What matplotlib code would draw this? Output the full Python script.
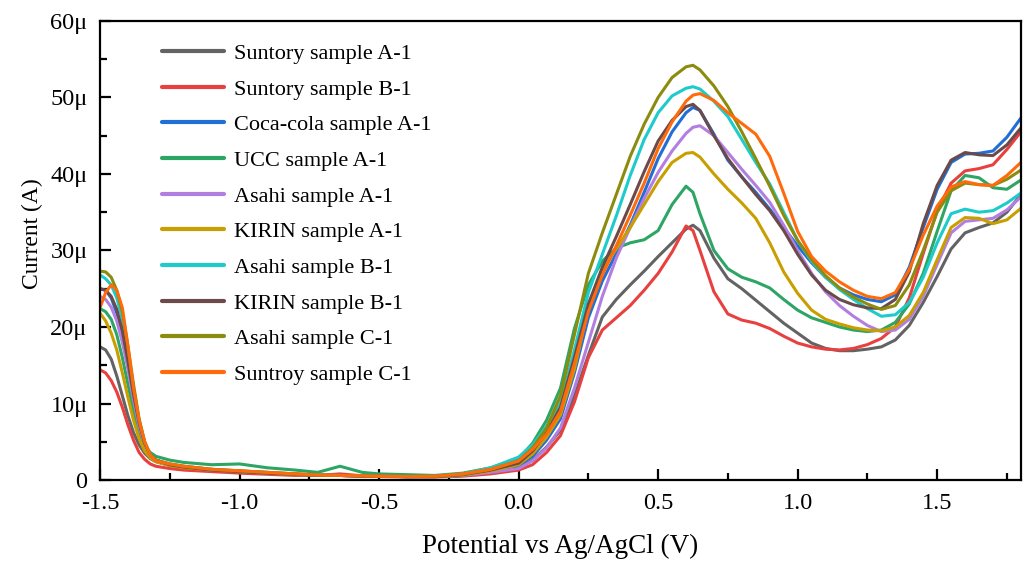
import matplotlib
matplotlib.use("Agg")
import matplotlib.pyplot as plt
from matplotlib.ticker import MultipleLocator, FuncFormatter

plt.rcParams['font.family'] = ['Liberation Serif', 'DejaVu Serif']

# potential (V) grid used for all curves
potential = [-1.5, -1.48, -1.46, -1.44, -1.42, -1.40, -1.38, -1.36, -1.34, -1.32, -1.30,
             -1.25, -1.2, -1.1, -1.0, -0.9, -0.8, -0.72, -0.64, -0.56, -0.5, -0.4, -0.3, -0.2, -0.1,
             0.0, 0.05, 0.1, 0.15, 0.2, 0.25, 0.3, 0.35, 0.4, 0.45, 0.5, 0.55, 0.6, 0.625, 0.65,
             0.7, 0.75, 0.8, 0.85, 0.9, 0.95, 1.0, 1.05, 1.1, 1.15, 1.2, 1.25, 1.3, 1.35, 1.4,
             1.45, 1.5, 1.55, 1.6, 1.65, 1.7, 1.75, 1.8]

# current in uA
suntory_a1 = [17.4, 17.0, 15.8, 13.6, 11.0, 8.4, 6.2, 4.6, 3.5, 2.8, 2.4,
              1.9, 1.6, 1.3, 1.1, 0.9, 0.75, 0.65, 0.6, 0.55, 0.5, 0.45, 0.45, 0.6, 1.0,
              1.6, 2.6, 4.3, 6.5, 11.0, 16.3, 21.3, 23.6, 25.5, 27.3, 29.2, 31.0, 32.8, 33.3, 32.6,
              29.0, 26.3, 25.0, 23.5, 22.0, 20.5, 19.2, 17.9, 17.2, 16.9, 16.9, 17.1, 17.4, 18.3, 20.2,
              23.2, 26.6, 30.2, 32.3, 33.0, 33.6, 35.0, 37.3]
suntory_b1 = [14.4, 14.0, 13.0, 11.5, 9.5, 7.2, 5.2, 3.6, 2.7, 2.1, 1.8,
              1.5, 1.3, 1.1, 0.9, 0.75, 0.6, 0.6, 0.8, 0.55, 0.45, 0.4, 0.4, 0.5, 0.8,
              1.3, 2.0, 3.6, 5.8, 10.2, 16.0, 19.6, 21.2, 22.8, 24.8, 27.0, 29.8, 33.2, 32.6, 30.0,
              24.6, 21.7, 20.9, 20.5, 19.8, 18.8, 17.9, 17.4, 17.1, 17.0, 17.2, 17.7, 18.5, 20.0, 23.8,
              29.6, 35.2, 38.8, 40.4, 40.7, 41.2, 43.2, 45.5]
cocacola_a1 = [25.0, 24.8, 23.8, 21.8, 18.8, 15.0, 11.0, 7.5, 4.8, 3.3, 2.6,
               2.0, 1.7, 1.3, 1.1, 0.9, 0.75, 0.6, 0.6, 0.5, 0.5, 0.45, 0.45, 0.6, 1.1,
               1.9, 3.1, 5.2, 8.0, 14.0, 21.2, 26.0, 29.6, 33.3, 37.6, 42.0, 45.5, 48.0, 48.7, 48.3,
               45.2, 41.8, 39.6, 37.6, 35.4, 33.0, 30.6, 28.4, 26.5, 25.1, 24.2, 23.6, 23.3, 24.2, 27.8,
               33.0, 38.0, 41.5, 42.6, 42.7, 43.0, 44.8, 47.3]
ucc_a1 = [22.4, 22.0, 21.0, 19.0, 16.0, 12.5, 9.0, 6.2, 4.5, 3.6, 3.1,
          2.6, 2.3, 2.0, 2.1, 1.6, 1.3, 1.0, 1.8, 1.0, 0.8, 0.7, 0.6, 0.9, 1.6,
          2.8, 4.8, 7.8, 12.0, 19.8, 25.5, 28.6, 30.3, 31.0, 31.4, 32.6, 36.0, 38.4, 37.6, 34.8,
          30.0, 27.6, 26.5, 25.9, 25.1, 23.6, 22.2, 21.2, 20.6, 20.0, 19.6, 19.4, 19.6, 20.6, 23.0,
          27.0, 32.5, 37.8, 39.8, 39.5, 38.2, 38.0, 39.2]
asahi_a1 = [24.0, 23.6, 22.6, 20.8, 18.0, 14.5, 10.5, 7.0, 4.6, 3.2, 2.5,
            2.0, 1.7, 1.3, 1.1, 0.9, 0.75, 0.6, 0.6, 0.5, 0.5, 0.45, 0.45, 0.6, 1.0,
            1.5, 2.5, 4.2, 6.8, 12.0, 18.0, 24.0, 29.0, 33.0, 36.8, 40.2, 43.0, 45.3, 46.1, 46.3,
            45.0, 42.8, 40.6, 38.5, 36.3, 33.3, 30.0, 27.0, 24.6, 22.8, 21.4, 20.2, 19.4, 19.6, 21.0,
            24.0, 28.2, 32.3, 33.8, 34.0, 34.2, 35.3, 37.0]
kirin_a1 = [21.8, 20.8, 19.2, 17.0, 14.0, 10.8, 7.8, 5.4, 3.8, 2.9, 2.4,
            1.9, 1.6, 1.3, 1.1, 0.9, 0.7, 0.6, 0.6, 0.5, 0.5, 0.45, 0.45, 0.65, 1.2,
            2.0, 3.4, 5.6, 8.5, 14.5, 22.5, 27.5, 30.2, 33.0, 36.0, 39.0, 41.5, 42.7, 42.8, 42.2,
            40.0, 38.0, 36.2, 34.2, 31.0, 27.2, 24.4, 22.2, 21.0, 20.4, 19.9, 19.6, 19.5, 20.0, 21.5,
            24.5, 28.8, 33.0, 34.3, 34.2, 33.5, 34.0, 35.5]
asahi_b1 = [26.8, 26.3, 25.5, 23.8, 21.0, 16.8, 12.0, 7.8, 4.9, 3.3, 2.6,
            2.1, 1.8, 1.4, 1.2, 1.0, 0.8, 0.65, 0.6, 0.55, 0.5, 0.45, 0.5, 0.8, 1.6,
            3.0, 4.6, 7.0, 10.0, 17.0, 24.5, 29.5, 34.5, 39.8, 44.5, 48.0, 50.2, 51.2, 51.4, 51.1,
            49.5, 47.5, 44.5, 41.5, 38.7, 35.0, 31.3, 28.6, 26.5, 24.9, 23.6, 22.4, 21.4, 21.6, 23.2,
            26.5, 31.0, 34.8, 35.4, 35.0, 35.2, 36.2, 37.5]
kirin_b1 = [25.0, 24.8, 24.0, 22.3, 19.5, 15.5, 11.2, 7.5, 4.8, 3.3, 2.6,
            2.0, 1.7, 1.3, 1.1, 0.9, 0.75, 0.6, 0.6, 0.5, 0.5, 0.45, 0.45, 0.7, 1.3,
            2.2, 3.8, 6.2, 9.5, 16.0, 23.0, 27.8, 31.8, 36.0, 40.3, 44.3, 47.0, 48.8, 49.1, 48.3,
            45.0, 42.0, 39.6, 37.3, 35.2, 32.6, 29.5, 26.8, 24.8, 23.6, 22.9, 22.5, 22.4, 23.6, 27.2,
            33.5, 38.5, 41.8, 42.8, 42.5, 42.4, 43.8, 46.0]
asahi_c1 = [27.3, 27.2, 26.5, 24.8, 22.0, 17.5, 12.5, 8.0, 5.0, 3.3, 2.6,
            2.1, 1.8, 1.4, 1.2, 1.0, 0.8, 0.65, 0.6, 0.55, 0.5, 0.45, 0.5, 0.75, 1.4,
            2.5, 4.2, 6.8, 11.0, 19.0, 27.0, 32.3, 37.3, 42.3, 46.5, 50.0, 52.6, 54.0, 54.2, 53.6,
            51.5, 48.8, 45.5, 42.0, 38.4, 34.6, 31.3, 28.8, 26.7, 25.1, 23.9, 23.0, 22.3, 22.8, 25.5,
            30.0, 35.0, 37.8, 38.8, 38.6, 38.5, 39.3, 40.5]
suntroy_c1 = [22.5, 24.5, 25.5, 24.8, 22.5, 17.5, 12.0, 7.8, 5.0, 3.3, 2.5,
              2.1, 1.8, 1.4, 1.2, 1.0, 0.8, 0.65, 0.6, 0.55, 0.5, 0.45, 0.5, 0.8, 1.4,
              2.5, 4.0, 6.0, 9.0, 15.2, 22.0, 26.8, 30.6, 34.6, 38.8, 43.3, 46.8, 49.5, 50.3, 50.5,
              49.6, 48.0, 46.6, 45.2, 42.3, 37.5, 32.5, 29.2, 27.3, 25.9, 24.8, 24.0, 23.7, 24.5, 27.5,
              32.0, 35.8, 38.3, 39.0, 38.6, 38.5, 39.8, 41.5]

labels = ['Suntory sample A-1', 'Suntory sample B-1', 'Coca-cola sample A-1', 'UCC sample A-1',
          'Asahi sample A-1', 'KIRIN sample A-1', 'Asahi sample B-1', 'KIRIN sample B-1',
          'Asahi sample C-1', 'Suntroy sample C-1']
series = [suntory_a1, suntory_b1, cocacola_a1, ucc_a1, asahi_a1,
          kirin_a1, asahi_b1, kirin_b1, asahi_c1, suntroy_c1]
colors = ['#636363', '#e8403f', '#1f6fd6', '#2da564', '#b27fe0',
          '#c99f00', '#1dcbcb', '#6c4a4a', '#8b8c0e', '#ff6a0a']

fig = plt.figure(figsize=(10.26, 5.65), dpi=100)
ax = fig.add_axes([0.0975, 0.1504, 0.8975, 0.8126])

for y, lab, c in zip(series, labels, colors):
    ax.plot(potential, y, color=c, lw=2.2, label=lab, solid_capstyle='round')

ax.set_xlim(-1.5, 1.8)
ax.set_ylim(0, 60)
ax.xaxis.set_major_locator(MultipleLocator(0.5))
ax.xaxis.set_minor_locator(MultipleLocator(0.25))
ax.yaxis.set_major_locator(MultipleLocator(10))
ax.yaxis.set_minor_locator(MultipleLocator(5))
ax.xaxis.set_major_formatter(FuncFormatter(lambda v, p: f"{v:.1f}"))
ax.yaxis.set_major_formatter(FuncFormatter(lambda v, p: "0" if v == 0 else f"{v:.0f}\u03bc"))

ax.tick_params(which='both', direction='in', top=False, right=False, width=1.6, labelsize=17.5)
ax.tick_params(axis='x', which='major', length=8, pad=9)
ax.tick_params(axis='y', which='major', length=8, pad=9)
ax.tick_params(which='minor', length=5)
for s in ax.spines.values():
    s.set_linewidth(1.6)

ax.set_xlabel('Potential vs Ag/AgCl (V)', fontsize=19.5, labelpad=15)
ax.set_ylabel('Current (A)', fontsize=17)
ax.yaxis.set_label_coords(-0.062, 0.537)

leg = ax.legend(loc='upper left', frameon=False, fontsize=16, handlelength=2.8,
                handletextpad=0.45, labelspacing=0.68, borderaxespad=0.3,
                bbox_to_anchor=(0.05, 0.985))
for h in leg.get_lines():
    h.set_linewidth(3.0)

fig.savefig('out.png', dpi=100)
